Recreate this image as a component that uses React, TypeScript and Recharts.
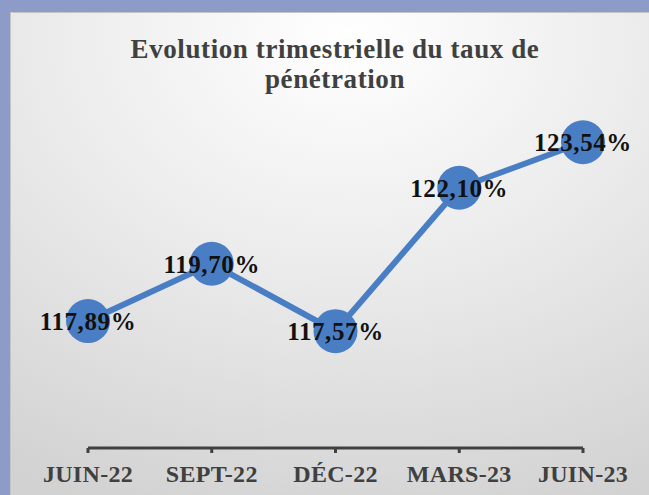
import React from "react";
import { LineChart, Line, XAxis, YAxis, LabelList } from "recharts";

const categories = ["JUIN-22", "SEPT-22", "DÉC-22", "MARS-23", "JUIN-23"];
const tauxValues = [117.89, 119.7, 117.57, 122.1, 123.54];
const valueLabels = ["117,89%", "119,70%", "117,57%", "122,10%", "123,54%"];
const titleLines = ["Evolution trimestrielle du taux de", "pénétration"];

const data = categories.map((c, i) => ({ name: c, value: tauxValues[i], label: valueLabels[i] }));

const FONT = "'Liberation Serif', 'Times New Roman', serif";

const Tick = (props: any) => {
  const { x, y, payload } = props;
  return (
    <text
      x={x}
      y={y}
      dy="0.71em"
      textAnchor="middle"
      fill="#404040"
      fontFamily={FONT}
      fontWeight="bold"
      fontSize={24}
      letterSpacing={0.3}
    >
      {payload.value}
    </text>
  );
};

export default function App() {
  return (
    <div style={{ position: "absolute", left: 0, top: 0, width: 649, height: 495, background: "#8c9bc7", overflow: "hidden" }}>
      <svg width={649} height={495} style={{ position: "absolute", left: 0, top: 0 }}>
        <defs>
          <radialGradient id="bg" cx="52%" cy="5%" r="100%" fx="52%" fy="5%">
            <stop offset="0%" stopColor="#ffffff" />
            <stop offset="45%" stopColor="#ececec" />
            <stop offset="100%" stopColor="#d2d2d2" />
          </radialGradient>
        </defs>
        <rect x={10.5} y={12.5} width={650} height={500} fill="url(#bg)" stroke="#c4c4c4" strokeWidth={1} />
        {titleLines.map((t, i) => (
          <text
            key={i}
            x={335}
            y={58 + i * 30}
            textAnchor="middle"
            fill="#404040"
            fontFamily={FONT}
            fontWeight="bold"
            fontSize={27}
            letterSpacing={0.6}
          >
            {t}
          </text>
        ))}
      </svg>
      <div style={{ position: "absolute", left: 0, top: 0 }}>
        <LineChart width={649} height={495} data={data} margin={{ top: 96, right: 66, bottom: 7, left: 88 }}>
          <XAxis
            dataKey="name"
            scale="point"
            padding={{ left: 0, right: 0 }}
            axisLine={{ stroke: "#404040", strokeWidth: 3 }}
            tickLine={{ stroke: "#404040", strokeWidth: 3 }}
            tickSize={5}
            tickMargin={12}
            height={40}
            interval={0}
            tick={<Tick />}
          />
          <YAxis hide domain={[113.88, 125]} type="number" />
          <Line
            dataKey="value"
            stroke="#4a7ec4"
            strokeWidth={6}
            isAnimationActive={false}
            dot={{ r: 22, fill: "#4a7ec4", stroke: "#4a7ec4", strokeWidth: 0 }}
            activeDot={false}
          >
            <LabelList
              dataKey="label"
              position="center"
              fill="#111111"
              fontFamily={FONT}
              fontWeight="bold"
              fontSize={25}
              letterSpacing={0.6}
            />
          </Line>
        </LineChart>
      </div>
    </div>
  );
}
